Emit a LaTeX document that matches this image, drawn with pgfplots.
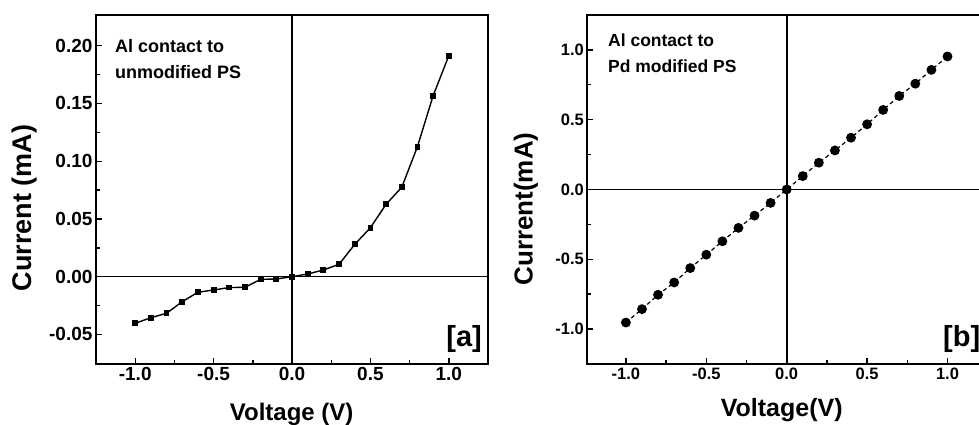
\documentclass[border=0pt]{standalone}
\usepackage{pgfplots}
\pgfplotsset{compat=1.18}
\usepackage{fontspec}
\setmainfont{Liberation Sans}
\begin{document}
\begin{tikzpicture}
\pgfplotsset{
  every axis/.append style={
    scale only axis,
    axis line style={line width=1.8pt},
    tick style={line width=1.4pt, black},
    tick align=inside,
    xtick pos=bottom, ytick pos=left,
    major tick length=6pt, minor tick length=3.5pt,
    /pgf/number format/assume math mode=true,
    tick label style={font=\bfseries},
    clip=false,
  }
}
% ---------- panel a ----------
\begin{axis}[
  at={(96pt,61pt)}, anchor=south west,
  width=392pt, height=349pt,
  xmin=-1.25, xmax=1.25, ymin=-0.0756, ymax=0.2266,
  xtick={-1,-0.5,0,0.5,1}, minor xtick={-0.75,-0.25,0.25,0.75},
  ytick={-0.05,0,0.05,0.1,0.15,0.2}, minor ytick={-0.075,-0.025,0.025,0.075,0.125,0.175},
  xticklabel style={font=\fontsize{19}{19}\selectfont\bfseries,
    /pgf/number format/.cd, fixed, fixed zerofill, precision=1},
  yticklabel style={font=\fontsize{19}{19}\selectfont\bfseries,
    /pgf/number format/.cd, fixed, fixed zerofill, precision=2},
]
\addplot[black, line width=1.6pt] coordinates {(0,-0.0756) (0,0.2266)};
\addplot[black, line width=1.6pt] coordinates {(-1.25,0) (1.25,0)};
\addplot[black, line width=1.4pt, mark=square*, mark size=2.2pt] coordinates {
(-1.0,-0.0404) (-0.9,-0.0355) (-0.8,-0.0317) (-0.7,-0.0216) (-0.6,-0.0135)
(-0.5,-0.0115) (-0.4,-0.0094) (-0.3,-0.0092) (-0.2,-0.0023) (-0.1,-0.0020)
(0.0,0.0) (0.1,0.0023) (0.2,0.0058) (0.3,0.0107) (0.4,0.0280)
(0.5,0.0424) (0.6,0.0627) (0.7,0.0774) (0.8,0.1126) (0.9,0.1567) (1.0,0.1913)};
\end{axis}
% ---------- panel b ----------
\begin{axis}[
  at={(587.3pt,61pt)}, anchor=south west,
  width=402pt, height=349pt,
  xmin=-1.24, xmax=1.26, ymin=-1.25, ymax=1.25,
  xtick={-1,-0.5,0,0.5,1}, minor xtick={-0.75,-0.25,0.25,0.75},
  ytick={-1,-0.5,0,0.5,1}, minor ytick={-0.75,-0.25,0.25,0.75},
  xticklabel style={font=\fontsize{16.5}{16.5}\selectfont\bfseries,
    /pgf/number format/.cd, fixed, fixed zerofill, precision=1},
  yticklabel style={font=\fontsize{16.5}{16.5}\selectfont\bfseries,
    /pgf/number format/.cd, fixed, fixed zerofill, precision=1},
]
\addplot[black, line width=1.6pt] coordinates {(0,-1.25) (0,1.25)};
\addplot[black, line width=1.6pt] coordinates {(-1.24,0) (1.26,0)};
\addplot[black, line width=1.2pt, dash pattern=on 4pt off 3pt, mark=*, mark size=4.3pt, mark options={solid}] coordinates {
(-1.0,-0.953) (-0.9,-0.857) (-0.8,-0.754) (-0.7,-0.666) (-0.6,-0.563)
(-0.5,-0.467) (-0.4,-0.371) (-0.3,-0.275) (-0.2,-0.187) (-0.1,-0.096)
(0.0,0.0) (0.1,0.096) (0.2,0.192) (0.3,0.280) (0.4,0.371)
(0.5,0.467) (0.6,0.570) (0.7,0.670) (0.8,0.758) (0.9,0.857) (1.0,0.953)};
\end{axis}
% ---------- texts ----------
\node[anchor=base west, inner sep=0pt, font=\fontsize{18}{18}\selectfont\bfseries] at (115pt,372.3pt) {Al contact to};
\node[anchor=base west, inner sep=0pt, font=\fontsize{18}{18}\selectfont\bfseries] at (115pt,346pt) {unmodified PS};
\node[anchor=base east, inner sep=0pt, font=\fontsize{29}{29}\selectfont\bfseries] at (482pt,78pt) {[a]};
\node[anchor=base west, inner sep=0pt, font=\fontsize{17.5}{17.5}\selectfont\bfseries] at (608pt,378.3pt) {Al contact to};
\node[anchor=base west, inner sep=0pt, font=\fontsize{17.5}{17.5}\selectfont\bfseries] at (608pt,352.3pt) {Pd modified PS};
\node[anchor=base west, inner sep=0pt, font=\fontsize{29}{29}\selectfont\bfseries] at (943pt,78pt) {[b]};
\node[rotate=90, inner sep=0pt, font=\fontsize{27}{27}\selectfont\bfseries] at (25pt,217pt) {Current (mA)};
\node[rotate=90, inner sep=0pt, font=\fontsize{26}{26}\selectfont\bfseries] at (526pt,216pt) {Current(mA)};
\node[anchor=base, inner sep=0pt, font=\fontsize{24}{24}\selectfont\bfseries] at (291.7pt,4pt) {Voltage (V)};
\node[anchor=base, inner sep=0pt, font=\fontsize{25}{25}\selectfont\bfseries] at (781.7pt,8pt) {Voltage(V)};
\pgfresetboundingbox
\path (0pt,0pt) rectangle (979pt,425pt);
\end{tikzpicture}
\end{document}
